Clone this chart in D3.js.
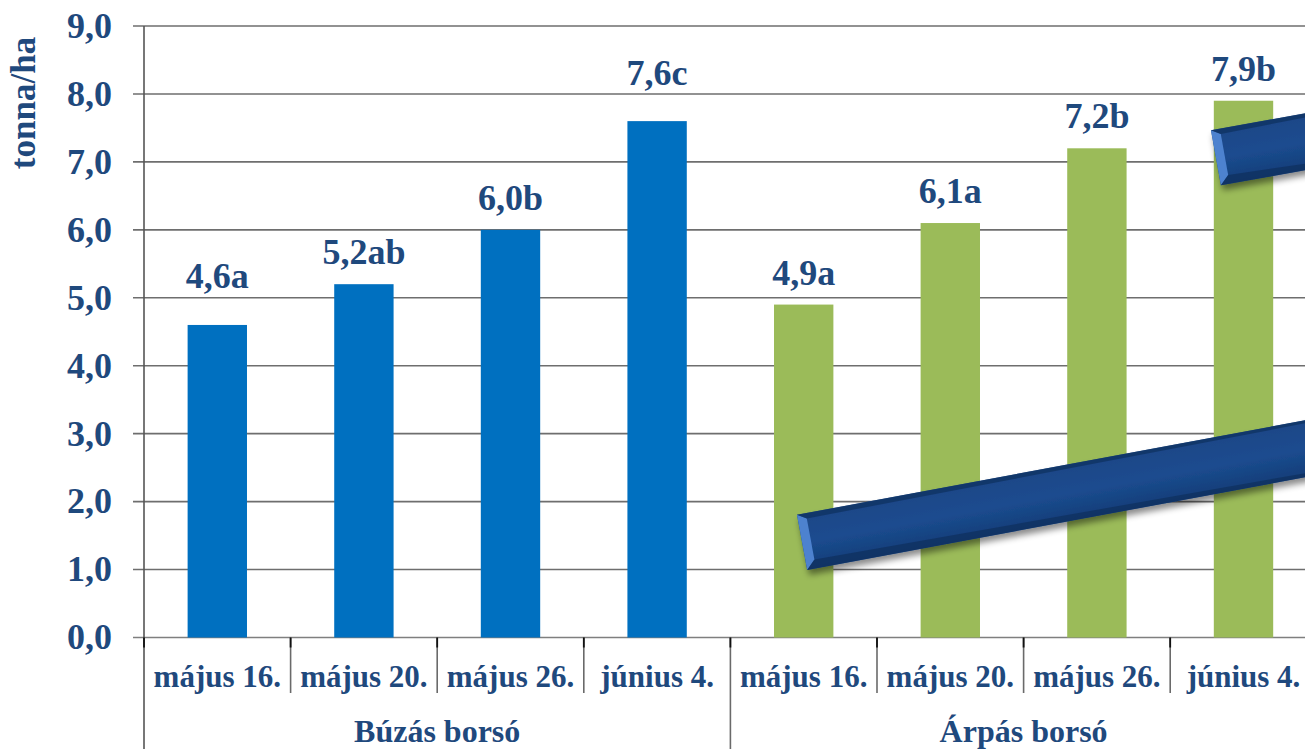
<!DOCTYPE html>
<html>
<head>
<meta charset="utf-8">
<script src="https://cdn.jsdelivr.net/npm/d3@7/dist/d3.min.js"></script>
<style>
  html, body { margin: 0; padding: 0; background: #fff; overflow: hidden; }
  svg { display: block; }
  text { font-family: "Liberation Serif", "Times New Roman", serif; font-weight: bold; fill: #1F497D; }
</style>
</head>
<body>
<svg id="chart" width="1305" height="749"></svg>
<script>
// Yield (tonna/ha) by sowing date for two pea intercrops
const groups = ["Búzás borsó", "Árpás borsó"];
const dates = ["május 16.", "május 20.", "május 26.", "június 4."];
const buzasValues = [4.6, 5.2, 6.0, 7.6];
const arpasValues = [4.9, 6.1, 7.2, 7.9];
const buzasLetters = ["a", "ab", "b", "c"];
const arpasLetters = ["a", "a", "b", "b"];
const yTicks = [0, 1, 2, 3, 4, 5, 6, 7, 8, 9];

// extra lift (px) for the first and last wheat-pea labels
const labelLift = [17, 0, 0, 16, 0, 0, 0, 0];

const fmt = v => v.toFixed(1).replace(".", ",");

const rows = [];
groups.forEach((g, gi) => {
  const vals = gi === 0 ? buzasValues : arpasValues;
  const lets = gi === 0 ? buzasLetters : arpasLetters;
  dates.forEach((d, di) => {
    rows.push({ key: gi + "-" + di, group: g, gi, date: d, value: vals[di], letter: lets[di] });
  });
});

const svg = d3.select("#chart");
const plotLeft = 144, plotTop = 26, plotBottom = 637.5, step = 146.6;
const plotRight = plotLeft + step * rows.length;

const x = d3.scaleBand().domain(rows.map(r => r.key)).range([plotLeft, plotRight]).padding(0);
const xIdx = d3.scaleLinear().domain([0, rows.length]).range([plotLeft, plotRight]);
const y = d3.scaleLinear().domain([0, 9]).range([plotBottom, plotTop]);
const barW = x.bandwidth() * 0.405;

// gridlines
svg.append("g").selectAll("line").data(yTicks).join("line")
  .attr("x1", plotLeft - 11).attr("x2", plotRight)
  .attr("y1", d => y(d)).attr("y2", d => y(d))
  .attr("stroke", d => d === 0 ? "#7f7f7f" : "#6e6e6e")
  .attr("stroke-width", 1.6);

// y tick labels
svg.append("g").selectAll("text").data(yTicks).join("text")
  .attr("x", 112).attr("y", d => y(d)).attr("dy", "0.33em")
  .attr("text-anchor", "end").attr("font-size", 36)
  .text(d => fmt(d));

// y axis title
svg.append("text")
  .attr("transform", "translate(35,103) rotate(-90)")
  .attr("text-anchor", "middle").attr("font-size", 35)
  .text("tonna/ha");

// bars
svg.append("g").selectAll("rect").data(rows).join("rect")
  .attr("x", d => x(d.key) + (x.bandwidth() - barW) / 2)
  .attr("width", barW)
  .attr("y", d => y(d.value))
  .attr("height", d => y(0) - y(d.value))
  .attr("fill", d => d.gi === 0 ? "#0070C0" : "#9BBB59");

// value labels
svg.append("g").selectAll("text").data(rows).join("text")
  .attr("x", d => x(d.key) + x.bandwidth() / 2)
  .attr("y", (d, i) => y(d.value) - 20 - labelLift[i])
  .attr("text-anchor", "middle").attr("font-size", 36)
  .text(d => fmt(d.value) + d.letter);

// left axis line
svg.append("line")
  .attr("x1", plotLeft).attr("x2", plotLeft).attr("y1", plotTop).attr("y2", 749)
  .attr("stroke", "#555").attr("stroke-width", 1.6);

// category separators
const seps = d3.range(1, rows.length + 1);
svg.append("g").selectAll("line").data(seps).join("line")
  .attr("x1", i => xIdx(i)).attr("x2", i => xIdx(i))
  .attr("y1", plotBottom).attr("y2", i => i % dates.length === 0 ? 749 : 693)
  .attr("stroke", "#6a6a6a").attr("stroke-width", 1.6);
svg.append("g").selectAll("line").data(d3.range(0, rows.length + 1)).join("line")
  .attr("x1", i => xIdx(i)).attr("x2", i => xIdx(i))
  .attr("y1", plotBottom).attr("y2", plotBottom + 10)
  .attr("stroke", "#111").attr("stroke-width", 1.8);

// date labels
svg.append("g").selectAll("text").data(rows).join("text")
  .attr("x", d => x(d.key) + x.bandwidth() / 2)
  .attr("y", 686.5)
  .attr("text-anchor", "middle").attr("font-size", 31)
  .text(d => d.date);

// group labels
svg.append("g").selectAll("text").data(groups).join("text")
  .attr("x", (g, gi) => xIdx(gi * dates.length + dates.length / 2))
  .attr("y", 741.5)
  .attr("text-anchor", "middle").attr("font-size", 32)
  .text(g => g);

// decorative bevelled beams (anchored in chart units: category index, tonna/ha)
const beams = [
  { from: [4.489, 1.40], to: [8.6, 3.05] },
  { from: [7.312, 7.06], to: [8.6, 7.56] }
];
const beamHalf = 28, bevel = 9;

const defs = svg.append("defs");
const shadow = defs.append("filter").attr("id", "beamShadow")
  .attr("x", "-20%").attr("y", "-50%").attr("width", "140%").attr("height", "200%");
shadow.append("feDropShadow").attr("dx", 2).attr("dy", 5).attr("stdDeviation", 3)
  .attr("flood-color", "#000").attr("flood-opacity", 0.45);

const beamLayer = svg.append("g");
beams.forEach((b, bi) => {
  const p0 = [xIdx(b.from[0]), y(b.from[1])];
  const p1 = [xIdx(b.to[0]), y(b.to[1])];
  const dx = p1[0] - p0[0], dy = p1[1] - p0[1];
  const len = Math.hypot(dx, dy);
  const ux = dx / len, uy = dy / len;
  const nx = -uy, ny = ux; // points downward-ish
  const pt = (p, s, t) => [p[0] + ux * t + nx * s, p[1] + uy * t + ny * s];

  const grad = defs.append("linearGradient").attr("id", "beamGrad" + bi)
    .attr("gradientUnits", "userSpaceOnUse")
    .attr("x1", pt(p0, -beamHalf, 0)[0]).attr("y1", pt(p0, -beamHalf, 0)[1])
    .attr("x2", pt(p0, beamHalf, 0)[0]).attr("y2", pt(p0, beamHalf, 0)[1]);
  grad.append("stop").attr("offset", 0).attr("stop-color", "#1a4687");
  grad.append("stop").attr("offset", 0.5).attr("stop-color", "#1b4c8f");
  grad.append("stop").attr("offset", 1).attr("stop-color", "#143d78");

  const g = beamLayer.append("g");
  const outer = [pt(p0, -beamHalf, 0), pt(p1, -beamHalf, 0), pt(p1, beamHalf, 0), pt(p0, beamHalf, 0)];
  g.append("polygon").attr("points", outer.map(p => p.join(",")).join(" "))
    .attr("fill", "url(#beamGrad" + bi + ")").attr("filter", "url(#beamShadow)");

  // bevel facets at the open end and along the edges
  const iTL = pt(p0, -beamHalf + bevel * 0.6, bevel), iBL = pt(p0, beamHalf - bevel, bevel);
  g.append("polygon")
    .attr("points", [pt(p0, -beamHalf, 0), iTL, iBL, pt(p0, beamHalf, 0)].map(p => p.join(",")).join(" "))
    .attr("fill", "#4d82cf");
  g.append("polygon")
    .attr("points", [pt(p0, -beamHalf, 0), pt(p1, -beamHalf, 0), pt(p1, -beamHalf + 2.5, 0), pt(p0, -beamHalf + bevel * 0.6, bevel)].map(p => p.join(",")).join(" "))
    .attr("fill", "#0f3363").attr("opacity", 0.8);
  g.append("polygon")
    .attr("points", [pt(p0, beamHalf, 0), pt(p1, beamHalf, 0), pt(p1, beamHalf - 3, 0), iBL].map(p => p.join(",")).join(" "))
    .attr("fill", "#0e2f5c").attr("opacity", 0.7);
});
</script>
</body>
</html>
